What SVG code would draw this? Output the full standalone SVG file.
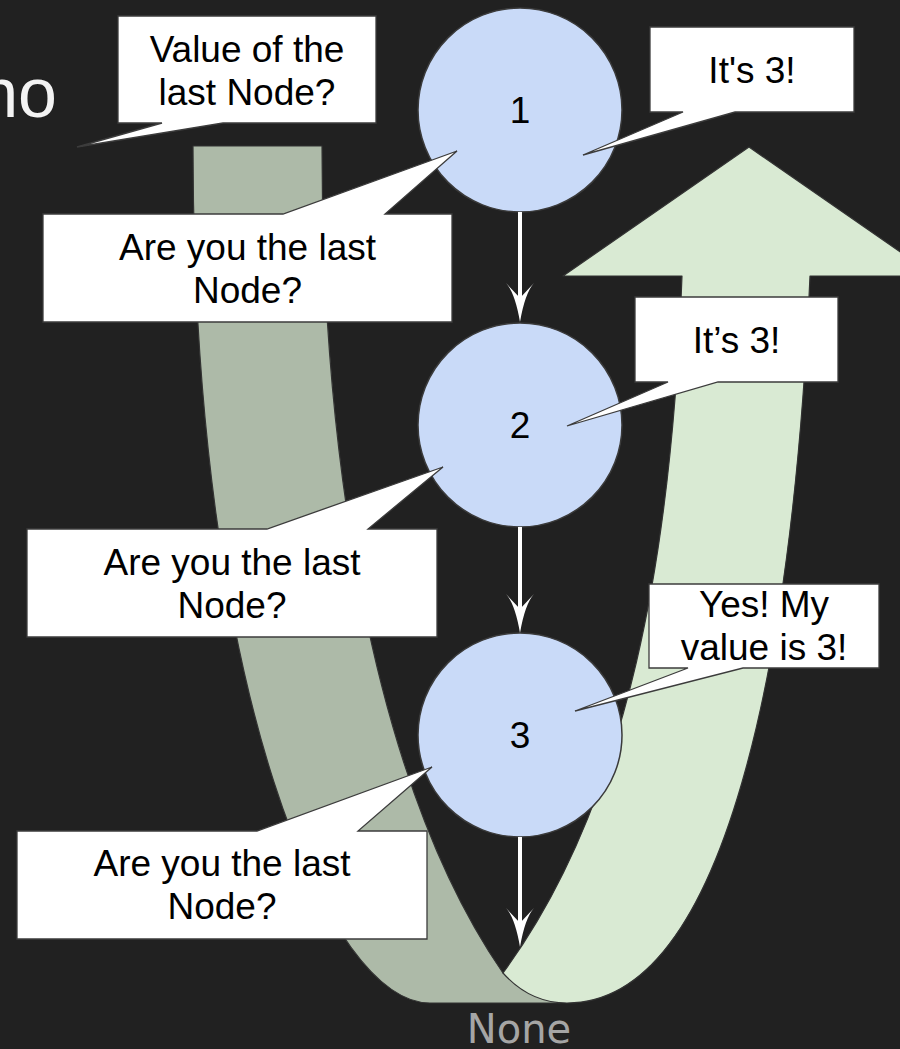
<svg xmlns="http://www.w3.org/2000/svg" width="900" height="1049" viewBox="0 0 900 1049">
  <style>
    .band { stroke: #333333; stroke-width: 1.2; stroke-linejoin: round; }
    .node circle { fill: #c9daf8; stroke: #3a3a3a; stroke-width: 1.5; }
    .txt { font-family: "Liberation Sans", Arial, sans-serif; font-size: 37px; fill: #000000; text-anchor: middle; }
    .callout path { fill: #ffffff; stroke: #3c3c3c; stroke-width: 1.3; stroke-linejoin: miter; }
    .link { stroke: #ffffff; stroke-width: 4; fill: none; }
  </style>
  <defs>
    <marker id="head" viewBox="0 0 39 28" refX="22" refY="14" markerWidth="39" markerHeight="28" markerUnits="userSpaceOnUse" orient="auto">
      <path d="M0,0 Q10,9 39,14 Q10,19 0,28 L15,14 Z" fill="#ffffff"/>
    </marker>
  </defs>
  <rect x="0" y="0" width="900" height="1049" fill="#212121"/>

  <text x="57" y="117" font-family="Liberation Sans, Arial, sans-serif" font-size="70" fill="#f3f3f3" text-anchor="end">no</text>

  <g id="down-band">
    <path class="band" fill="#adbaa8" d="M193,146 L322,146 C322,450 370,780 503,973 L560,1003 L430,1003 C330,1003 193,700 193,146 Z"/>
  </g>
  <g id="up-arrow">
    <path class="band" fill="#d9ead3" d="M682,276 L563,276 L749,147 L935,276 L810,276 C795,620 735,1003 567,1003 C540,1003 520,992 503,973 C630,800 672,550 682,276 Z"/>
  </g>

  <g id="node1" class="node">
    <circle cx="520" cy="110" r="102"/>
    <text class="txt" x="520" y="123">1</text>
  </g>
  <g id="node2" class="node">
    <circle cx="520" cy="425" r="102"/>
    <text class="txt" x="520" y="438">2</text>
  </g>
  <g id="node3" class="node">
    <circle cx="520" cy="735" r="102"/>
    <text class="txt" x="520" y="748">3</text>
  </g>

  <g id="connectors">
    <line class="link" x1="520" y1="212" x2="520" y2="305" marker-end="url(#head)"/>
    <line class="link" x1="520" y1="527" x2="520" y2="616" marker-end="url(#head)"/>
    <line class="link" x1="520" y1="837" x2="520" y2="930" marker-end="url(#head)"/>
  </g>

  <g id="callout-value" class="callout">
    <path d="M118,16 H376 V123 H223 L77,147 L162,123 H118 Z"/>
    <text class="txt" x="247" y="62">Value of the</text>
    <text class="txt" x="247" y="105">last Node?</text>
  </g>
  <g id="callout-ask1" class="callout">
    <path d="M43,214 H283 L457,151 L385,214 H452 V322 H43 Z"/>
    <text class="txt" x="247.5" y="260">Are you the last</text>
    <text class="txt" x="247.5" y="303">Node?</text>
  </g>
  <g id="callout-its3-1" class="callout">
    <path d="M650,27 H854 V112 H735 L583,155 L683,112 H650 Z"/>
    <text class="txt" x="752" y="83">It's 3!</text>
  </g>
  <g id="callout-its3-2" class="callout">
    <path d="M635,297 H838 V382 H718 L567,426 L668,382 H635 Z"/>
    <text class="txt" x="736.5" y="353">It’s 3!</text>
  </g>
  <g id="callout-ask2" class="callout">
    <path d="M27,529 H267 L443,467 L368,529 H437 V637 H27 Z"/>
    <text class="txt" x="232" y="575">Are you the last</text>
    <text class="txt" x="232" y="618">Node?</text>
  </g>
  <g id="callout-yes" class="callout">
    <path d="M649,584 H879 V668 H743 L575,711 L688,668 H649 Z"/>
    <text class="txt" x="764" y="617">Yes! My</text>
    <text class="txt" x="764" y="660">value is 3!</text>
  </g>
  <g id="callout-ask3" class="callout">
    <path d="M17,831 H257 L432,767 L358,831 H427 V939 H17 Z"/>
    <text class="txt" x="222" y="876">Are you the last</text>
    <text class="txt" x="222" y="919">Node?</text>
  </g>

  <g id="none-label">
    <text x="519" y="1043" font-family="DejaVu Sans, sans-serif" font-size="40" fill="#a5a5a5" text-anchor="middle">None</text>
  </g>
</svg>
